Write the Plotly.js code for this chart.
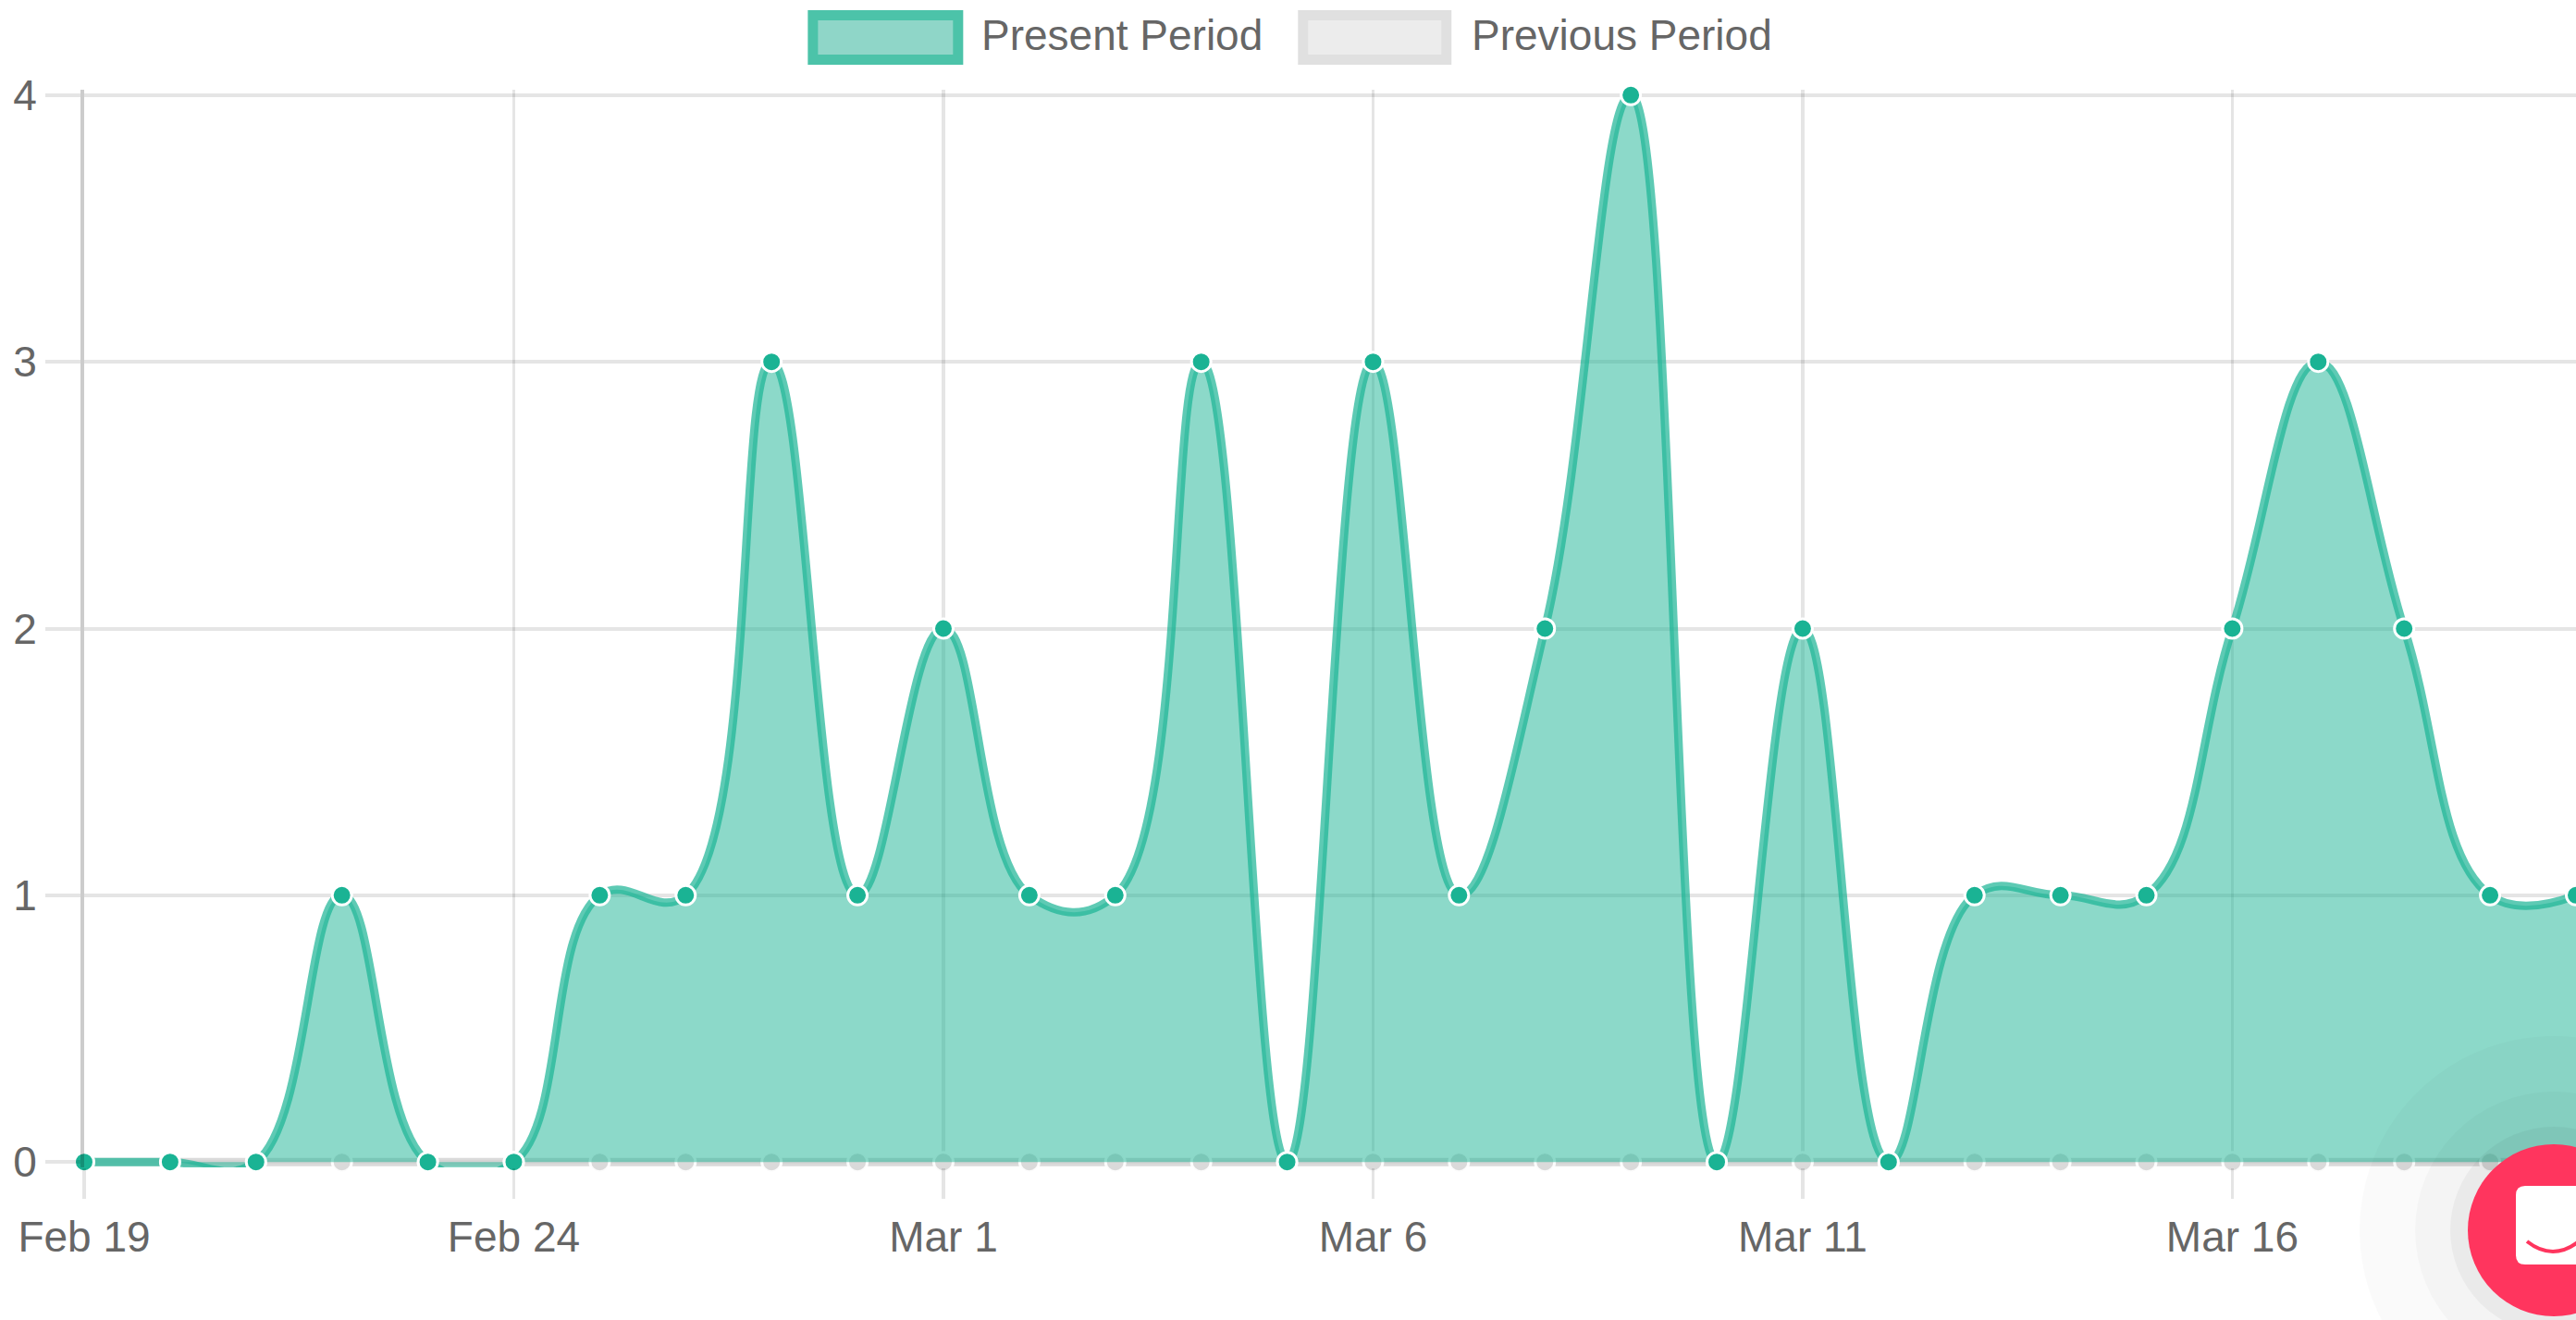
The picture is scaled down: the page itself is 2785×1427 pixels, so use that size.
<!DOCTYPE html>
<html><head><meta charset="utf-8">
<script src="https://cdn.plot.ly/plotly-3.0.1.min.js"></script>
<style>html,body{margin:0;padding:0;background:#fff;overflow:hidden}</style></head>
<body><div id="chart" style="width:2785px;height:1427px"></div>
<script>
const dates = ["2019-02-19","2019-02-20","2019-02-21","2019-02-22","2019-02-23","2019-02-24","2019-02-25","2019-02-26","2019-02-27","2019-02-28",
"2019-03-01","2019-03-02","2019-03-03","2019-03-04","2019-03-05","2019-03-06","2019-03-07","2019-03-08","2019-03-09","2019-03-10",
"2019-03-11","2019-03-12","2019-03-13","2019-03-14","2019-03-15","2019-03-16","2019-03-17","2019-03-18","2019-03-19","2019-03-20"];
const presentPeriod = [0,0,0,1,0,0,1,1,3,1,2,1,1,3,0,3,1,2,4,0,2,0,1,1,1,2,3,2,1,1];
const previousPeriod = [0,0,0,0,0,0,0,0,0,0,0,0,0,0,0,0,0,0,0,0,0,0,0,0,0,0,0,0,0,0];
const tickDates = ["2019-02-19","2019-02-24","2019-03-01","2019-03-06","2019-03-11","2019-03-16"];
const tickLabels = ["Feb 19","Feb 24","Mar 1","Mar 6","Mar 11","Mar 16"];
const legendNames = ["Present Period","Previous Period"];

const W=2785,H=1427,L=90.5,R=0,T=97,B=165;
const px=x=>(x-L)/(W-L-R), py=y=>1-(y-T)/(H-T-B);
const circle=(cx,cy,r,fill)=>({type:'circle',xref:'paper',yref:'paper',layer:'above',x0:px(cx-r),x1:px(cx+r),y0:py(cy+r),y1:py(cy-r),fillcolor:fill,line:{width:0}});
const rect=(x0,y0,x1,y1,fill,stroke)=>({type:'rect',xref:'paper',yref:'paper',layer:'above',x0:px(x0),x1:px(x1),y0:py(y1),y1:py(y0),fillcolor:fill,line:{color:stroke,width:11}});
const P=(x,y)=>px(x)+','+py(y);

const traces=[
{x:dates,y:previousPeriod,name:legendNames[1],mode:'lines+markers',cliponaxis:false,
 line:{color:'rgba(205,205,205,0.75)',width:9,shape:'spline',smoothing:1},
 fill:'tozeroy',fillcolor:'rgba(220,220,220,0.5)',
 marker:{size:21,color:'rgba(218,218,218,1)',line:{color:'rgba(255,255,255,0.9)',width:3}}},
{x:dates,y:presentPeriod,name:legendNames[0],mode:'lines+markers',cliponaxis:false,
 line:{color:'rgba(26,179,148,0.7)',width:9,shape:'spline',smoothing:1.2},
 fill:'tozeroy',fillcolor:'rgba(26,179,148,0.5)',
 marker:{size:21,color:'#1ab394',line:{color:'#fff',width:3}}}
];
const font={family:'"Liberation Sans",Arial,sans-serif',size:46,color:'#666'};
const layout={
 width:W,height:H,showlegend:false,paper_bgcolor:'#fff',plot_bgcolor:'#fff',font,
 margin:{l:L,r:R,t:T,b:B,pad:0},hovermode:false,
 xaxis:{type:'date',range:[dates[0],dates[dates.length-1]],tickmode:'array',tickvals:tickDates,ticktext:tickLabels,
  showgrid:true,gridcolor:'rgba(0,0,0,0.1)',gridwidth:3.5,zeroline:false,showline:false,
  ticks:'outside',ticklen:33,tickwidth:3.5,tickcolor:'rgba(0,0,0,0.1)',tickfont:font,ticklabelstandoff:2},
 yaxis:{range:[-0.02,4.02],tickmode:'array',tickvals:[0,1,2,3,4],ticktext:['0','1','2','3','4'],
  showgrid:true,gridcolor:'rgba(0,0,0,0.1)',gridwidth:4,zeroline:false,showline:true,linecolor:'rgba(0,0,0,0.2)',linewidth:4,
  ticks:'outside',ticklen:38,tickwidth:4,tickcolor:'rgba(0,0,0,0.1)',tickfont:font},
 shapes:[
  rect(878.5,16.5,1035.5,64.5,'#8fd6c8','#4cc3a9'),
  rect(1408.5,16.5,1563.5,64.5,'#ececec','#e0e0e0'),
  circle(2761,1330,210,'rgba(0,0,0,0.02)'),
  circle(2761,1330,150,'rgba(0,0,0,0.025)'),
  circle(2761,1330,112,'rgba(0,0,0,0.04)'),
  circle(2761,1330,93,'#ff355e'),
  {type:'path',xref:'paper',yref:'paper',layer:'above',fillcolor:'#fff',line:{width:0},
   path:`M${P(2730,1282)} L${P(2800,1282)} L${P(2800,1367)} L${P(2730,1367)} Q${P(2720,1367)} ${P(2720,1357)} L${P(2720,1292)} Q${P(2720,1282)} ${P(2730,1282)} Z`},
  {type:'path',xref:'paper',yref:'paper',layer:'above',line:{color:'#ff355e',width:4},
   path:`M${P(2732,1342)} Q${P(2760,1364)} ${P(2788,1342)}`}
 ],
 annotations:[
  {xref:'paper',yref:'paper',x:px(1059),y:py(38),xanchor:'left',yanchor:'middle',showarrow:false,text:legendNames[0],font},
  {xref:'paper',yref:'paper',x:px(1589),y:py(38),xanchor:'left',yanchor:'middle',showarrow:false,text:legendNames[1],font}
 ]
};
Plotly.newPlot('chart',traces,layout,{staticPlot:true,displayModeBar:false});
</script></body></html>
